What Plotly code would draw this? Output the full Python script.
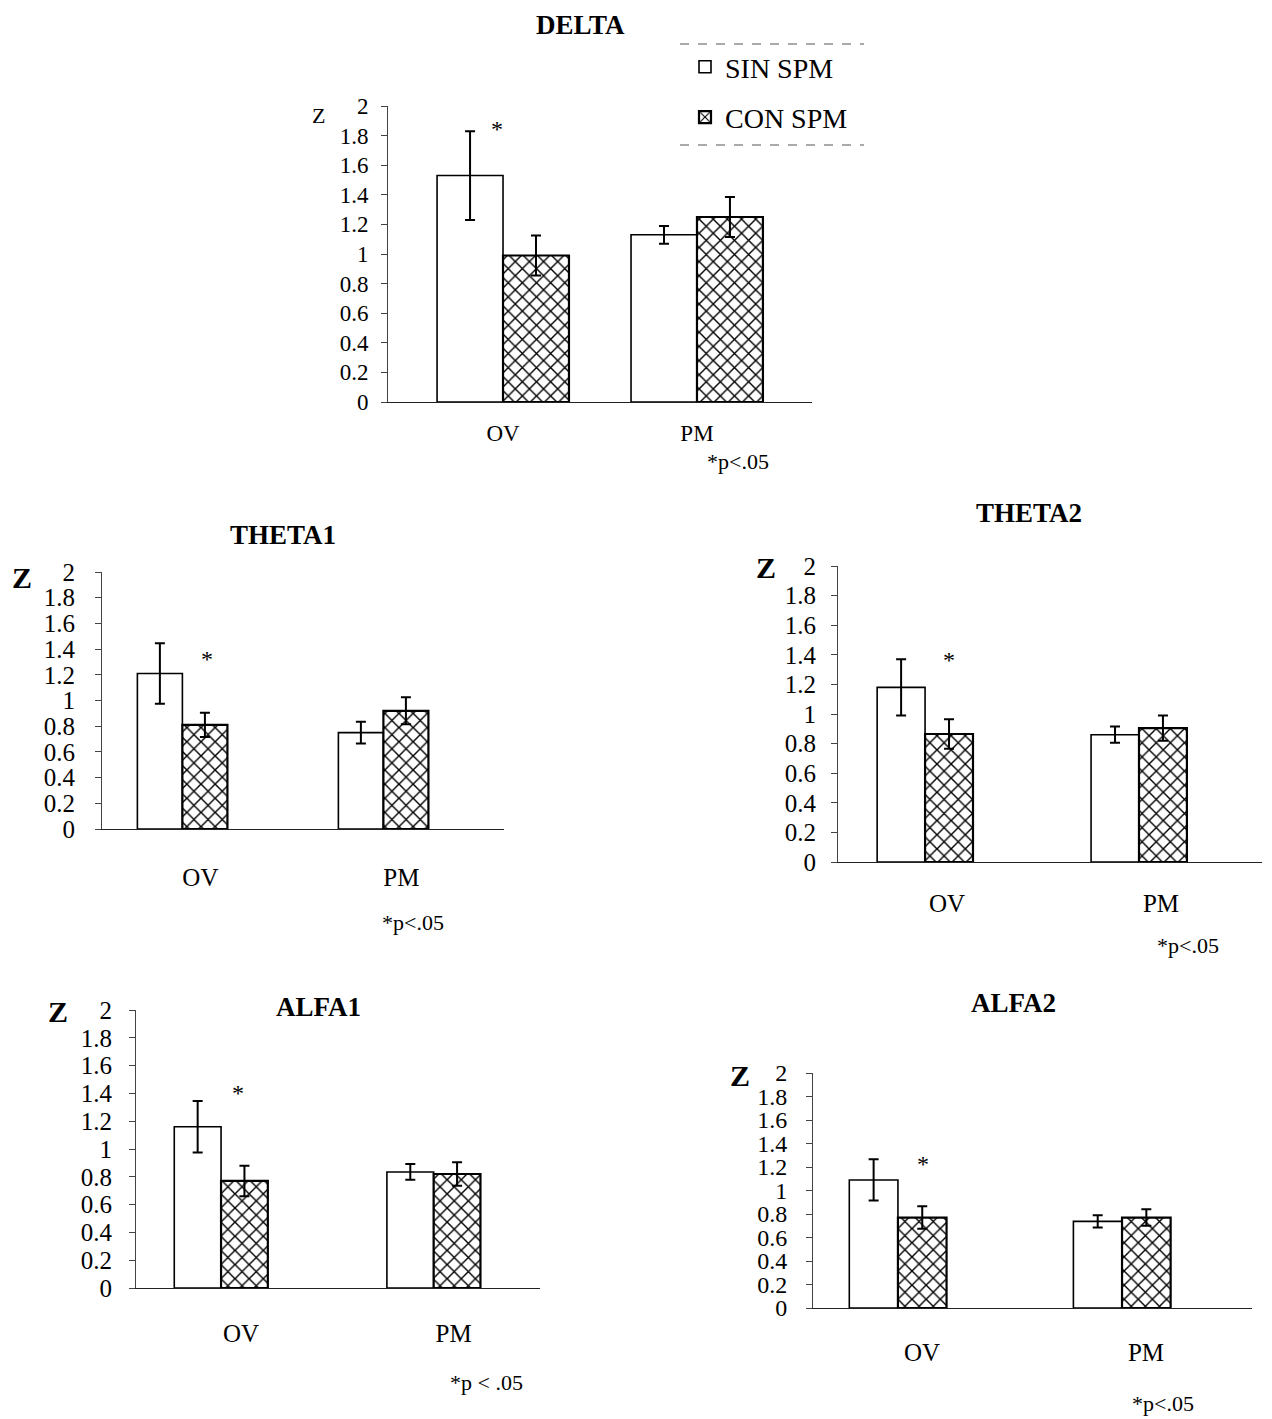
import plotly.graph_objects as go

# ---------------- data ----------------
categories = ["OV", "PM"]
panel_titles = ["DELTA", "THETA1", "THETA2", "ALFA1", "ALFA2"]
series_names = ["SIN SPM", "CON SPM"]

delta_sin = [1.53, 1.13]
delta_sin_err = [0.30, 0.06]
delta_con = [0.99, 1.25]
delta_con_err = [0.135, 0.135]

theta1_sin = [1.21, 0.75]
theta1_sin_err = [0.235, 0.085]
theta1_con = [0.81, 0.92]
theta1_con_err = [0.095, 0.105]

theta2_sin = [1.18, 0.86]
theta2_sin_err = [0.19, 0.055]
theta2_con = [0.865, 0.905]
theta2_con_err = [0.10, 0.085]

alfa1_sin = [1.16, 0.835]
alfa1_sin_err = [0.185, 0.057]
alfa1_con = [0.77, 0.82]
alfa1_con_err = [0.11, 0.085]

alfa2_sin = [1.09, 0.737]
alfa2_sin_err = [0.175, 0.052]
alfa2_con = [0.77, 0.77]
alfa2_con_err = [0.095, 0.07]

# height of the significance asterisk above the OV group (Z units)
star_y = [1.88, 1.36, 1.40, 1.44, 1.27]
p_note = ["*p<.05", "*p<.05", "*p<.05", "*p < .05", "*p<.05"]
y_tickvals = [0, 0.2, 0.4, 0.6, 0.8, 1, 1.2, 1.4, 1.6, 1.8, 2]

sin_vals = [delta_sin, theta1_sin, theta2_sin, alfa1_sin, alfa2_sin]
sin_errs = [delta_sin_err, theta1_sin_err, theta2_sin_err, alfa1_sin_err, alfa2_sin_err]
con_vals = [delta_con, theta1_con, theta2_con, alfa1_con, alfa2_con]
con_errs = [delta_con_err, theta1_con_err, theta2_con_err, alfa1_con_err, alfa2_con_err]

# ---------------- layout geometry (pixels of the page) ----------------
W, H = 1272, 1419
PAGE_OFF = 8  # the page body margin that offsets the figure
FONT = "Liberation Serif"


def px_x(p):
    return (p - PAGE_OFF) / W


def px_y(p):
    return 1 - (p - PAGE_OFF) / H


geom = [
    dict(l=388, r=812, t=106, b=402, xr=[-0.593, 1.593], bw=0.34, yf=23, xf=23,
         xso=10, xsh=0, yso=8, sx=-0.03, title=(580, 25), z=(318, 115, False, 22),
         p=(738, 461)),
    dict(l=102, r=504, t=572, b=829, xr=[-0.40, 1.60], bw=0.224, yf=25, xf=25,
         xso=26, xsh=18, yso=15, sx=0.12, title=(283, 535), z=(22, 577, True, 30),
         p=(413, 922)),
    dict(l=838, r=1262, t=566, b=862, xr=[-0.407, 1.575], bw=0.224, yf=25, xf=25,
         xso=19, xsh=22, yso=10, sx=0.11, title=(1029, 513), z=(766, 568, True, 30),
         p=(1188, 945)),
    dict(l=136, r=540, t=1010, b=1288, xr=[-0.40, 1.50], bw=0.22, yf=25, xf=25,
         xso=23, xsh=20, yso=12, sx=0.08, title=(318, 1007), z=(58, 1012, True, 30),
         p=(486, 1382)),
    dict(l=813, r=1252, t=1073, b=1308, xr=[-0.379, 1.58], bw=0.217, yf=24, xf=25,
         xso=22, xsh=24, yso=14, sx=0.11, title=(1013, 1003), z=(740, 1075, True, 30),
         p=(1163, 1403)),
]

fig = go.Figure()
annotations = []
layout_axes = {}

for i, g in enumerate(geom):
    sfx = "" if i == 0 else str(i + 1)
    xa, ya = "x" + sfx, "y" + sfx
    w = g["bw"]
    fig.add_trace(go.Bar(
        x=categories, y=sin_vals[i], name=series_names[0],
        width=w, offset=-w, xaxis=xa, yaxis=ya,
        marker=dict(color="white", line=dict(color="black", width=1.6)),
        error_y=dict(type="data", array=sin_errs[i], color="black",
                     thickness=2, width=5),
        showlegend=(i == 0), legendgroup="sin",
    ))
    fig.add_trace(go.Bar(
        x=categories, y=con_vals[i], name=series_names[1],
        width=w, offset=0, xaxis=xa, yaxis=ya,
        marker=dict(color="white",
                    pattern=dict(shape="x", fgcolor="black", bgcolor="white",
                                 size=10, solidity=0.26),
                    line=dict(color="black", width=2.2)),
        error_y=dict(type="data", array=con_errs[i], color="black",
                     thickness=2, width=5),
        showlegend=(i == 0), legendgroup="con",
    ))

    layout_axes["xaxis" + sfx] = dict(
        domain=[px_x(g["l"]), px_x(g["r"])], anchor=ya, type="category",
        range=g["xr"], showline=True, linecolor="#222", linewidth=1.2,
        ticks="", showgrid=False, zeroline=False, automargin=False,
        tickfont=dict(family=FONT, size=g["xf"], color="black"),
        ticklabelstandoff=g["xso"], ticklabelshift=g["xsh"],
    )
    layout_axes["yaxis" + sfx] = dict(
        domain=[px_y(g["b"]), px_y(g["t"])], anchor=xa, range=[0, 2],
        tickvals=y_tickvals, showline=True, linecolor="#444", linewidth=1,
        ticks="outside", ticklen=6, tickcolor="#444", showgrid=False,
        zeroline=False, automargin=False,
        tickfont=dict(family=FONT, size=g["yf"], color="black"),
        ticklabelstandoff=g["yso"],
    )

    tx, ty = g["title"]
    annotations.append(dict(
        text="<b>%s</b>" % panel_titles[i], x=px_x(tx), y=px_y(ty),
        xref="paper", yref="paper", showarrow=False, xanchor="center",
        yanchor="middle", font=dict(family=FONT, size=27, color="black")))
    zx, zy, zb, zs = g["z"]
    annotations.append(dict(
        text=("<b>Z</b>" if zb else "Z"), x=px_x(zx), y=px_y(zy),
        xref="paper", yref="paper", showarrow=False, xanchor="center",
        yanchor="middle", font=dict(family=FONT, size=zs, color="black")))
    annotations.append(dict(
        text="*", x=g["sx"], y=star_y[i], xref=xa, yref=ya, showarrow=False,
        xanchor="center", yanchor="middle", yshift=-5,
        font=dict(family=FONT, size=24, color="black")))
    px_, py_ = g["p"]
    annotations.append(dict(
        text=p_note[i], x=px_x(px_), y=px_y(py_), xref="paper", yref="paper",
        showarrow=False, xanchor="center", yanchor="middle",
        font=dict(family=FONT, size=22, color="black")))

shapes = [
    dict(type="line", xref="paper", yref="paper", x0=px_x(680), x1=px_x(864),
         y0=px_y(44), y1=px_y(44), line=dict(color="#555", width=1, dash="dash")),
    dict(type="line", xref="paper", yref="paper", x0=px_x(680), x1=px_x(864),
         y0=px_y(145), y1=px_y(145), line=dict(color="#555", width=1, dash="dash")),
]

fig.update_layout(
    template="none",
    width=W, height=H, margin=dict(l=0, r=0, t=0, b=0, autoexpand=False),
    paper_bgcolor="white", plot_bgcolor="white",
    font=dict(family=FONT, color="black"),
    showlegend=True,
    legend=dict(x=px_x(685), y=px_y(42), xanchor="left", yanchor="top",
                bgcolor="rgba(0,0,0,0)", borderwidth=0, tracegroupgap=11,
                font=dict(family=FONT, size=28, color="black"),
                traceorder="grouped"),
    annotations=annotations, shapes=shapes,
    **layout_axes,
)

fig.write_html("out.html")
